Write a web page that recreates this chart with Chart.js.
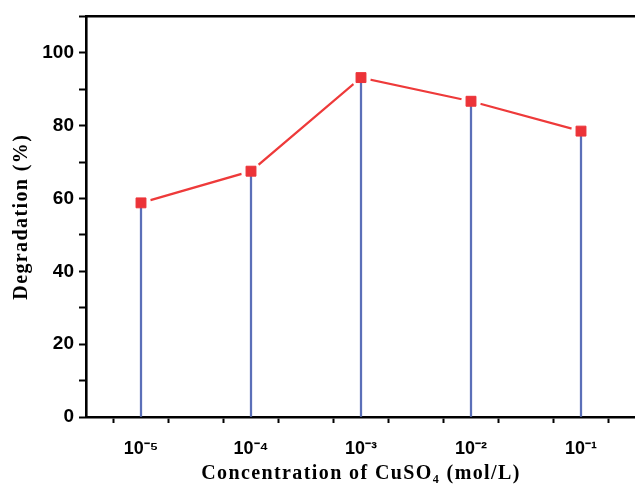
<!DOCTYPE html>
<html>
<head>
<meta charset="utf-8">
<script src="https://cdn.jsdelivr.net/npm/chart.js@4.4.0/dist/chart.umd.min.js"></script>
<style>
  html, body { margin: 0; padding: 0; background: #fff; overflow: hidden; }
  #wrap { width: 651px; height: 492px; position: relative; }
</style>
</head>
<body>
<div id="wrap"><canvas id="degChart"></canvas></div>
<script>
// CuSO4 concentration vs degradation
const categories = ['10\u207B\u2075', '10\u207B\u2074', '10\u207B\u00B3', '10\u207B\u00B2', '10\u207B\u00B9'];
const degradation = [58.8, 67.5, 93.2, 86.7, 78.5];
const yTickValues = [0, 10, 20, 30, 40, 50, 60, 70, 80, 90, 100, 110];
const yLabelValues = [0, 20, 40, 60, 80, 100];
const xTickValues = [-0.5, 0, 0.5, 1, 1.5, 2, 2.5, 3, 3.5, 4, 4.5];

const points = degradation.map((v, i) => ({ x: i, y: v }));

const tickFont = { family: '"Liberation Sans", Arial, sans-serif', size: 18, weight: 'bold' };
const titleFont = { family: '"Liberation Serif", "Times New Roman", serif', size: 20, weight: 'bold' };

// axis titles are letter-spaced, tick labels are not (ticks drawn at z=1, after datasets)
const titleSpacing = {
    id: 'titleSpacing',
    beforeDraw(chart) { chart.ctx.letterSpacing = '1.4px'; },
    beforeDatasetsDraw(chart) { chart.ctx.letterSpacing = '0px'; }
};

new Chart(document.getElementById('degChart'), {
    data: {
        datasets: [
            {
                type: 'line',
                data: points,
                showLine: false,
                pointStyle: 'rect',
                pointRadius: 7,
                pointBorderWidth: 1,
                pointBackgroundColor: '#ec3338',
                pointBorderColor: '#ec3338',
                order: 0
            },
            {
                type: 'bar',
                data: points,
                backgroundColor: '#5b6fb8',
                barThickness: 1.6,
                order: 1
            },
            {
                // white halo giving the line gap near each marker
                type: 'line',
                data: points,
                showLine: false,
                pointStyle: 'circle',
                pointRadius: 10,
                pointBorderWidth: 0,
                pointBackgroundColor: '#ffffff',
                order: 2
            },
            {
                type: 'line',
                data: points,
                borderColor: '#ee3a3a',
                borderWidth: 2.2,
                pointRadius: 0,
                tension: 0,
                fill: false,
                order: 3
            }
        ]
    },
    options: {
        responsive: true,
        maintainAspectRatio: false,
        animation: false,
        layout: { padding: 0 },
        plugins: {
            legend: { display: false },
            tooltip: { enabled: false }
        },
        scales: {
            x: {
                type: 'linear',
                min: -0.5,
                max: 4.5,
                offset: false,
                afterBuildTicks: (scale) => {
                    scale.ticks = xTickValues.map((v) => ({ value: v }));
                },
                afterFit: (scale) => { scale.height = 75; },
                grid: { drawOnChartArea: false, tickLength: 6, tickWidth: 2, tickColor: '#000' },
                border: { color: '#000', width: 2.6 },
                ticks: {
                    z: 1,
                    autoSkip: false,
                    maxRotation: 0,
                    padding: 15,
                    color: '#000',
                    font: tickFont,
                    callback: (v) => Number.isInteger(v) && v >= 0 && v < categories.length ? categories[v] : ''
                },
                title: {
                    display: true,
                    text: 'Concentration of CuSO\u2084 (mol/L)',
                    color: '#000',
                    font: titleFont,
                    padding: { top: 0, bottom: 6 }
                }
            },
            x2: {
                type: 'linear',
                position: 'top',
                min: -0.5,
                max: 4.5,
                afterFit: (scale) => { scale.height = 15; },
                grid: { display: false },
                border: { color: '#000', width: 2.6 },
                ticks: { display: false }
            },
            y: {
                min: 0,
                max: 110,
                afterBuildTicks: (scale) => {
                    scale.ticks = yTickValues.map((v) => ({ value: v }));
                },
                afterFit: (scale) => { scale.width = 86; },
                grid: { drawOnChartArea: false, tickLength: 7, tickWidth: 2, tickColor: '#000' },
                border: { color: '#000', width: 2.6 },
                ticks: {
                    z: 1,
                    autoSkip: false,
                    padding: 5,
                    color: '#000',
                    font: { ...tickFont, size: 19 },
                    callback: (v) => yLabelValues.includes(v) ? String(v) : ''
                },
                title: {
                    display: true,
                    text: 'Degradation (%)',
                    color: '#000',
                    font: titleFont,
                    padding: { top: 10, bottom: 0 }
                }
            }
        }
    },
    plugins: [titleSpacing]
});
</script>
</body>
</html>
